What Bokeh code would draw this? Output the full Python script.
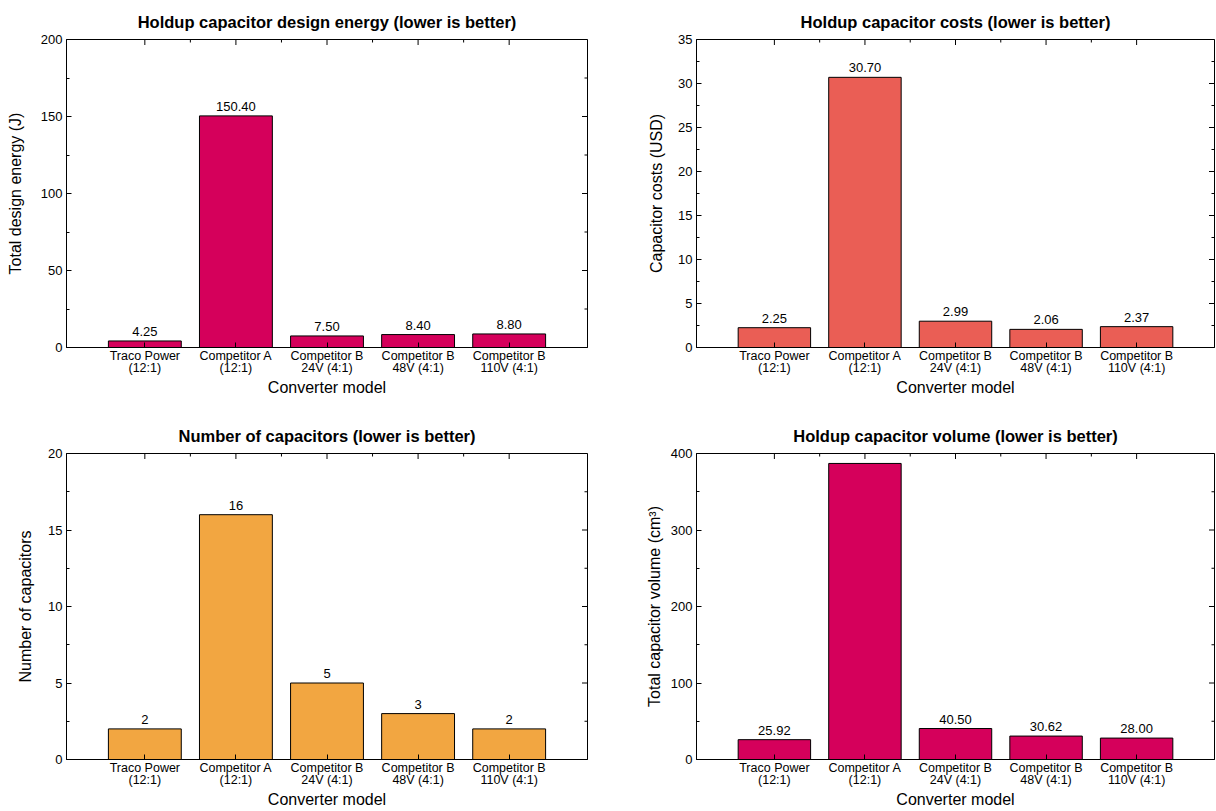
import math
from bokeh.plotting import figure
from bokeh.models import Range1d, FixedTicker, ColumnDataSource
from bokeh.layouts import column, row
from bokeh.embed import file_html
from bokeh.resources import INLINE
from bokeh.core.properties import value

categories = ["Traco Power\n(12:1)", "Competitor A\n(12:1)", "Competitor B\n24V (4:1)",
              "Competitor B\n48V (4:1)", "Competitor B\n110V (4:1)"]
energy = [4.25, 150.40, 7.50, 8.40, 8.80]
costs = [2.25, 30.70, 2.99, 2.06, 2.37]
counts = [2, 16, 5, 3, 2]
volume = [25.92, 387.0, 40.50, 30.62, 28.00]

FONT = "Liberation Sans"
C_MAG = "#D5005B"
C_CORAL = "#EA5E55"
C_ORANGE = "#F2A641"

X0, X1 = -0.86, 4.86


def make(vals, fmt, title, ylabel, ymax, ystep, color, left, right, top, frame_h, h,
         ylab_standoff):
    idx = list(range(len(vals)))
    p = figure(width=left + right + (521 if right > 5 else 518), height=h,
               x_range=Range1d(X0, X1), y_range=Range1d(0, ymax),
               output_backend="svg", toolbar_location=None,
               min_border_left=left, min_border_right=right, min_border_top=top,
               min_border_bottom=h - top - frame_h)
    p.xgrid.visible = False
    p.ygrid.visible = False
    p.outline_line_color = "black"
    p.outline_line_width = 1
    p.background_fill_color = "white"
    p.border_fill_color = "white"

    p.title.text = title
    p.title.align = "center"
    p.title.text_font = FONT
    p.title.text_font_size = "16.5px"
    p.title.text_font_style = "bold"
    p.title.text_color = "black"
    p.title.offset = 0
    p.title.standoff = 17

    src = ColumnDataSource(dict(x=idx, top=vals))
    p.vbar(x="x", top="top", width=0.8, bottom=0, source=src, fill_color=color,
           line_color="black", line_width=1)

    keep = [i for i, v in zip(idx, vals) if v < ymax * 0.96]
    p.text(x=[idx[i] for i in keep], y=[vals[i] for i in keep],
           text=[fmt(vals[i]) for i in keep], text_align="center", text_baseline="bottom",
           y_offset=-5, text_font=value(FONT), text_font_size="13px", text_color="black")

    yt = list(range(0, int(ymax) + 1, ystep))
    yminor = [t + ystep / 2 for t in yt[:-1]]
    xminor = [i + 0.5 for i in idx[:-1]]

    # mirrored inward ticks on top and right edges (half of each dash is clipped by the frame)
    p.scatter(x=idx, y=[ymax] * len(idx), marker="dash", size=11, angle=math.pi / 2,
              line_color="black", line_width=1)
    p.scatter(x=xminor, y=[ymax] * len(xminor), marker="dash", size=6, angle=math.pi / 2,
              line_color="black", line_width=1)
    p.scatter(x=[X1] * len(yt), y=yt, marker="dash", size=11,
              line_color="black", line_width=1)
    p.scatter(x=[X1] * len(yminor), y=yminor, marker="dash", size=6,
              line_color="black", line_width=1)

    xa = p.xaxis[0]
    xa.ticker = FixedTicker(ticks=idx, minor_ticks=[])
    xa.major_label_overrides = {i: c for i, c in zip(idx, categories)}
    xa.axis_label = "Converter model"
    ya = p.yaxis[0]
    ya.ticker = FixedTicker(ticks=yt, minor_ticks=yminor)
    ya.axis_label = ylabel

    for ax in [xa, ya]:
        ax.major_tick_in = 5
        ax.major_tick_out = 0
        ax.minor_tick_in = 3
        ax.minor_tick_out = 0
        ax.axis_line_color = "black"
        ax.major_tick_line_color = "black"
        ax.minor_tick_line_color = "black"
        ax.major_label_text_font = FONT
        ax.major_label_text_color = "black"
        ax.axis_label_text_font = FONT
        ax.axis_label_text_font_size = "16px"
        ax.axis_label_text_font_style = "normal"
        ax.axis_label_text_color = "black"
    ya.major_label_text_font_size = "13px"
    ya.major_label_standoff = 4
    ya.axis_label_standoff = ylab_standoff
    xa.major_label_text_font_size = "12.5px"
    xa.major_label_text_line_height = 0.88
    xa.major_label_standoff = 1
    xa.axis_label_standoff = 1
    return p


f2 = lambda v: "%.2f" % v
fi = lambda v: "%d" % v

TOP_H = 403
BOT_H = 407
p1 = make(energy, f2, "Holdup capacitor design energy (lower is better)", "Total design energy (J)",
          200, 50, C_MAG, 66, 23, 39, 308, TOP_H, 14)
p2 = make(costs, f2, "Holdup capacitor costs (lower is better)", "Capacitor costs (USD)",
          35, 5, C_CORAL, 86, 1, 39, 308, TOP_H, 10)
p3 = make(counts, fi, "Number of capacitors (lower is better)", "Number of capacitors",
          20, 5, C_ORANGE, 66, 23, 50, 307, BOT_H, 11)
p4 = make(volume, f2, "Holdup capacitor volume (lower is better)", "Total capacitor volume (cm³)",
          400, 100, C_MAG, 86, 1, 50, 307, BOT_H, 5)

layout = column(row(p1, p2, spacing=0), row(p3, p4, spacing=0), spacing=0)
open("out.html", "w").write(file_html(layout, INLINE))
